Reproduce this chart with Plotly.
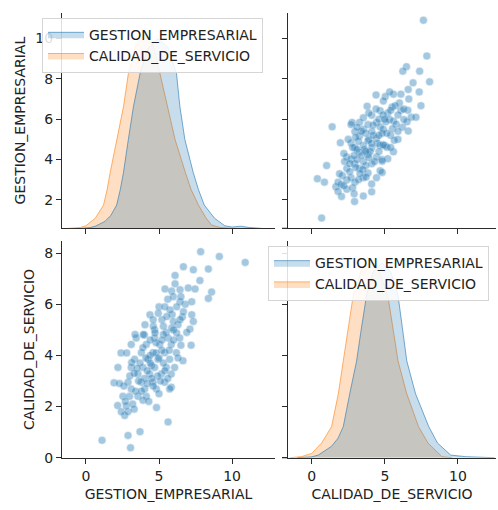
import plotly.graph_objects as go

W, H = 498, 510

# ---------------- data ----------------
GESTION_EMPRESARIAL = [
    1.1, 3.05, 2.88, 3.7, 5.62, 4.83, 2.17, 2.65, 2.42, 2.88, 2.76, 1.92, 2.19, 2.4, 7.2, 6.64, 5.84,
    2.53, 2.99, 3.56, 4.13, 3.9, 3.1, 4.02, 4.82, 5.73, 2.88, 3.79, 4.59, 5.39, 3.56, 4.36, 5.16, 5.84,
    3.1, 3.9, 4.7, 5.5, 6.07, 3.33, 4.25, 4.93, 5.73, 3.79, 4.59, 5.39, 6.19, 3.1, 4.13, 5.05, 5.84,
    3.44, 4.7, 5.62, 6.42,
    4.0, 4.5, 5.0, 5.2, 4.4, 4.8, 5.5, 4.2, 3.6, 5.3, 4.9, 4.6, 3.4, 4.3, 3.2, 5.1, 5.7, 6.0, 4.0, 3.7,
    3.0, 2.6, 4.7, 5.2, 5.9, 6.3, 6.6, 6.8, 5.6, 6.1, 5.0, 4.4, 3.9, 4.1, 6.3, 6.5, 3.3, 2.7, 2.3, 4.5, 5.4,
    7.85, 9.13, 10.9, 6.67, 7.35, 8.38, 6.1, 7.8, 5.41, 5.87, 6.44, 7.0, 7.47, 8.6, 8.38, 7.24, 6.44,
    5.98, 6.21, 5.75, 6.67, 7.24, 4.38, 4.95, 5.53, 5.98, 6.44, 4.04, 4.61, 5.3, 5.87, 7.12, 3.36, 3.92,
    4.73, 5.3, 6.21, 3.13, 2.79, 7.35, 6.9,
    4.2, 5.0, 3.5, 4.8, 5.6, 4.4, 5.2, 3.8, 6.0, 5.4, 4.6, 6.5, 3.3,
]
CALIDAD_DE_SERVICIO = [
    0.68, 0.39, 0.87, 1.02, 1.4, 1.96, 2.04, 1.65, 1.8, 1.8, 2.02, 2.93, 3.53, 4.1, 4.4, 3.79, 2.76,
    2.4, 2.4, 2.4, 2.4, 2.25, 2.69, 2.69, 2.69, 2.69, 2.95, 2.95, 2.95, 2.95, 3.27, 3.27, 3.27, 3.27,
    3.53, 3.53, 3.53, 3.53, 3.53, 3.85, 3.85, 3.85, 3.85, 4.11, 4.11, 4.11, 4.11, 4.43, 4.43, 4.43, 4.43,
    4.68, 4.68, 4.68, 4.68,
    3.1, 3.6, 3.9, 4.2, 4.0, 4.5, 4.9, 3.4, 3.0, 3.7, 3.2, 2.8, 2.6, 2.2, 2.1, 3.0, 4.2, 4.6, 4.8, 3.7,
    3.2, 2.8, 5.0, 5.4, 5.6, 5.2, 5.5, 6.0, 6.2, 6.8, 5.9, 4.6, 4.3, 3.9, 3.9, 4.4, 1.9, 2.2, 2.9, 3.1, 3.4,
    8.06, 7.87, 7.64, 7.47, 7.35, 7.38, 7.13, 6.93, 6.6, 6.52, 6.57, 6.64, 6.6, 6.48, 6.23, 6.1, 6.1,
    6.3, 5.9, 5.78, 5.71, 5.59, 5.59, 5.65, 5.52, 5.33, 5.4, 5.2, 5.14, 5.14, 5.07, 5.03, 4.82, 4.82,
    4.88, 4.82, 4.88, 3.72, 4.1, 5.33, 4.9,
    2.9, 2.5, 3.5, 4.1, 3.1, 3.7, 4.6, 2.6, 5.0, 5.9, 5.4, 6.3, 3.3,
]

# KDE curves as seen on the diagonal panels (x value, density)
kde_tl_gestion_x = [-0.3, 0.3, 0.64, 1.3, 1.7, 2.1, 2.35, 2.57, 2.9, 3.25, 3.7, 4.2, 4.9, 5.6, 6.2, 6.43,
                    6.77, 7.34, 7.7, 8.1, 8.8, 9.5, 10.0, 10.6, 11.2, 12.0]
kde_tl_gestion_y = [0, .0011, .0028, .009, .0168, .0302, .0504, .0728, .1154, .1582, .2008, .2324, .2464,
                    .2352, .2008, .1582, .1154, .0728, .0504, .0302, .0132, .0034, .0017, .0028, .0011, 0]
kde_tl_calidad_x = [-1.2, -0.4, 0.0, 0.64, 1.2, 1.45, 1.66, 2.1, 2.57, 2.9, 3.4, 4.0, 4.6, 5.07, 5.6, 6.1,
                    6.8, 7.2, 7.7, 8.2, 8.6, 9.2, 10.0]
kde_tl_calidad_y = [0, .0011, .0034, .0132, .0302, .0504, .0728, .1154, .1582, .2008, .238, .252, .238,
                    .2008, .1582, .1154, .0728, .0504, .0302, .014, .0042, .0011, 0]
kde_br_gestion_x = [-1.0, 0.0, 0.45, 1.36, 1.8, 2.16, 2.6, 3.07, 3.4, 3.75, 4.2, 4.8, 5.4, 5.9, 6.2, 6.5,
                    7.1, 8.0, 8.6, 9.5, 10.5, 12.5]
kde_br_gestion_y = [0, .0011, .0034, .0148, .0252, .0403, .0826, .1252, .1677, .21, .2408, .252, .2408,
                    .21, .168, .1252, .0826, .0403, .019, .0034, .0014, 0]
kde_br_calidad_x = [-1.5, -0.7, 0.0, 0.68, 1.36, 1.82, 2.16, 2.5, 2.84, 3.4, 4.0, 4.6, 5.2, 5.55, 5.9,
                    6.5, 7.3, 7.95, 8.9, 9.6]
kde_br_calidad_y = [0, .0014, .0056, .019, .0403, .0826, .1252, .1677, .21, .2436, .252, .2408, .21, .168,
                    .1252, .0826, .0403, .019, .0014, 0]

NAMES = ["GESTION_EMPRESARIAL", "CALIDAD_DE_SERVICIO"]
ticks_x = [0, 5, 10]
ticks_row0 = [2, 4, 6, 8, 10]
ticks_row1 = [0, 2, 4, 6, 8]

# ---------------- styling ----------------
BLUE = "31,119,180"
ORANGE = "255,127,14"
FONT = "DejaVu Sans"
FS = 14
AX = "#2b2b2b"

def px(x):
    return x / W

def py(y):
    return 1 - y / H

col0 = [px(62), px(275)]
col1 = [px(288), px(496)]
row0 = [py(232), py(13)]
row1 = [py(465), py(245)]
xr0 = [-1.64, 12.94]
xr1 = [-1.62, 12.6]
yr0 = [0.59, 11.27]
yr1 = [0.0, 8.47]
dens_range = [0, 0.28]

fig = go.Figure()

# empty traces so the diagonal frame subplots exist
fig.add_trace(go.Scatter(x=[], y=[], xaxis="x", yaxis="y", showlegend=False, hoverinfo="skip"))
fig.add_trace(go.Scatter(x=[], y=[], xaxis="x4", yaxis="y4", showlegend=False, hoverinfo="skip"))

def kde(xs, ys, rgb, name, xa, ya, leg, rank):
    fig.add_trace(go.Scatter(
        x=xs, y=ys, mode="lines", xaxis=xa, yaxis=ya, name=name, legend=leg, legendrank=rank,
        legendgroup=f"{leg}{rank}",
        fill="tozeroy", fillcolor=f"rgba({rgb},0.25)",
        line=dict(color=f"rgba({rgb},0.6)", width=1), hoverinfo="skip"))

# orange drawn first, blue on top (grey overlap as in the reference)
kde(kde_tl_calidad_x, kde_tl_calidad_y, ORANGE, NAMES[1], "x5", "y5", "legend", 2)
kde(kde_tl_gestion_x, kde_tl_gestion_y, BLUE, NAMES[0], "x5", "y5", "legend", 1)
kde(kde_br_calidad_x, kde_br_calidad_y, ORANGE, NAMES[1], "x6", "y6", "legend2", 2)
kde(kde_br_gestion_x, kde_br_gestion_y, BLUE, NAMES[0], "x6", "y6", "legend2", 1)

# scatter panels
mk = dict(size=8, color=f"rgb({BLUE})", opacity=0.4, line=dict(color="white", width=0.5))
fig.add_trace(go.Scatter(x=GESTION_EMPRESARIAL, y=CALIDAD_DE_SERVICIO, mode="markers",
                         xaxis="x3", yaxis="y3", marker=mk, showlegend=False, hoverinfo="skip"))
fig.add_trace(go.Scatter(x=CALIDAD_DE_SERVICIO, y=GESTION_EMPRESARIAL, mode="markers",
                         xaxis="x2", yaxis="y2", marker=mk, showlegend=False, hoverinfo="skip"))

def axis(domain, rng, ticks, labels, title=None, **kw):
    d = dict(domain=domain, range=rng, tickvals=ticks, showticklabels=labels,
             ticks="outside", ticklen=5, tickwidth=1, tickcolor=AX,
             showline=True, linecolor=AX, linewidth=1.2, showgrid=False, zeroline=False,
             tickfont=dict(family=FONT, size=FS, color="#222"))
    if title:
        d["title"] = dict(text=title, font=dict(family=FONT, size=FS, color="#222"), standoff=6)
    d.update(kw)
    return d

def hidden(dom, rng, anc):
    return dict(domain=dom, anchor=anc, range=rng, visible=False, showgrid=False, zeroline=False)

legend_style = dict(xanchor="left", yanchor="top", bgcolor="rgba(255,255,255,0.85)",
                    bordercolor="#d5d5d5", borderwidth=1, traceorder="normal",
                    font=dict(family=FONT, size=FS, color="#222"), tracegroupgap=3, itemwidth=36)

fig.update_layout(
    width=W, height=H, margin=dict(l=0, r=0, t=0, b=0),
    paper_bgcolor="white", plot_bgcolor="rgba(0,0,0,0)",
    font=dict(family=FONT, size=FS, color="#222"),
    xaxis=axis(col0, xr0, ticks_x, False, anchor="y"),
    yaxis=axis(row0, yr0, ticks_row0, True, NAMES[0], anchor="x"),
    xaxis2=axis(col1, xr1, ticks_x, False, anchor="y2"),
    yaxis2=axis(row0, yr0, ticks_row0, False, anchor="x2"),
    xaxis3=axis(col0, xr0, ticks_x, True, NAMES[0], anchor="y3"),
    yaxis3=axis(row1, yr1, ticks_row1, True, NAMES[1], anchor="x3"),
    xaxis4=axis(col1, xr1, ticks_x, True, NAMES[1], anchor="y4"),
    yaxis4=axis(row1, yr1, ticks_row1, False, anchor="x4"),
    xaxis5=hidden(col0, xr0, "y5"),
    yaxis5=hidden(row0, dens_range, "x5"),
    xaxis6=hidden(col1, xr1, "y6"),
    yaxis6=hidden(row1, dens_range, "x6"),
    legend=dict(x=px(42), y=py(18), **legend_style),
    legend2=dict(x=px(268), y=py(250), **legend_style),
    shapes=[
        dict(type="line", xref="paper", yref="paper", x0=px(282), x1=px(288), y0=py(232), y1=py(232),
             line=dict(color=AX, width=1.2)),
        dict(type="line", xref="paper", yref="paper", x0=px(282), x1=px(288), y0=py(465), y1=py(465),
             line=dict(color=AX, width=1.2)),
    ],
)

fig.write_html("out.html", config={"displayModeBar": False},
               post_script="document.body.style.margin='0';document.body.style.overflow='hidden';")
